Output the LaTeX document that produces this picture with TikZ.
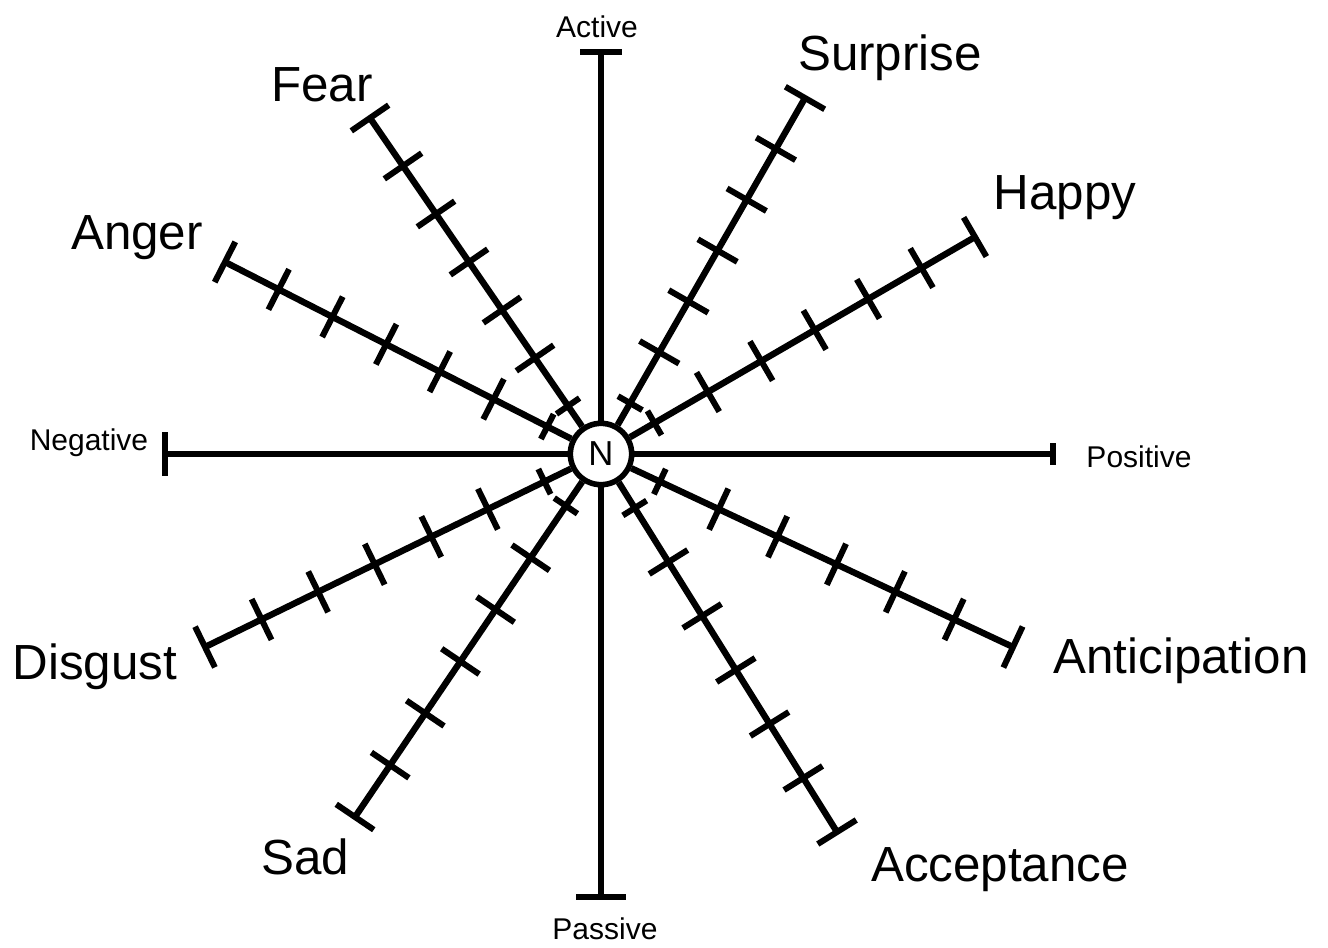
\documentclass[tikz,border=0pt]{standalone}
\usepackage{fontspec}
\setmainfont{Liberation Sans}
\usetikzlibrary{calc}

\begin{document}
\begin{tikzpicture}[x=0.75pt, y=-0.75pt,
        axis/.style={line width=4.2pt},
        spoke/.style={line width=4.8pt},
        tick/.style={line width=4.5pt},
        bigtext/.style={font=\fontsize{37}{44}\selectfont},
        smalltext/.style={font=\fontsize{22.5}{27}\selectfont}
    ]
        \useasboundingbox (0,0) rectangle (1328,947);

        % Neutral centre
        \node[circle, draw, line width=4.2pt, fill=white, minimum size=46pt, inner sep=0pt,
              font=\fontsize{26}{30}\selectfont] (N) at (601,454) {N};

        % Axis end points
        \coordinate (act) at (601,52);
        \coordinate (pas) at (601,897);
        \coordinate (neg) at (165,454);
        \coordinate (pos) at (1053,454);

        % Emotion end points
        \coordinate (fear) at (370,118);
        \coordinate (surprise) at (805,98);
        \coordinate (happy) at (975,237);
        \coordinate (anger) at (225,262);
        \coordinate (disgust) at (205,647);
        \coordinate (sad) at (355,817);
        \coordinate (accept) at (837,832);
        \coordinate (anticip) at (1013,647);

        % Axes with end caps
        \draw[axis] (N) -- (act);
        \draw[axis] (N) -- (pas);
        \draw[axis] (N) -- (neg);
        \draw[axis] (N) -- (pos);
        \draw[axis] ($(act)+(-21,0)$) -- ($(act)+(21,0)$);
        \draw[axis] ($(pas)+(-25,0)$) -- ($(pas)+(25,0)$);
        \draw[axis] ($(neg)+(0,-22)$) -- ($(neg)+(0,22)$);
        \draw[axis] ($(pos)+(0,-11)$) -- ($(pos)+(0,11)$);

        % Spokes with seven ticks each
        \foreach \e in {fear, surprise, happy, anger, disgust, sad, accept, anticip}{
            \draw[spoke] (N) -- (\e);
            \foreach \i in {1,...,7}{
                \pgfmathsetmacro{\h}{\i==1 ? 10.5 : 17}
                \coordinate (t) at ($(N)!\i/7!(\e)$);
                \draw[tick] ($(t)!\h pt!90:(N)$) -- ($(t)!\h pt!-90:(N)$);
            }
        }

        % Labels
        \node[smalltext] (lact) at (597,27) {Active};
        \node[smalltext] (lpas) at (605,929) {Passive};
        \node[smalltext] (lneg) at (89,443) {Negative};
        \node[smalltext] (lpos) at (1139,457) {Positive};
        \node[bigtext] (lfear) at (322,85) {Fear};
        \node[bigtext] (lsurprise) at (890,58) {Surprise};
        \node[bigtext] (lhappy) at (1065,198) {Happy};
        \node[bigtext] (langer) at (137,238) {Anger};
        \node[bigtext] (ldisgust) at (95,667) {Disgust};
        \node[bigtext] (lsad) at (305,857) {Sad};
        \node[bigtext] (laccept) at (1000,870) {Acceptance};
        \node[bigtext] (lanticip) at (1181,661) {Anticipation};
    \end{tikzpicture}
\end{document}
